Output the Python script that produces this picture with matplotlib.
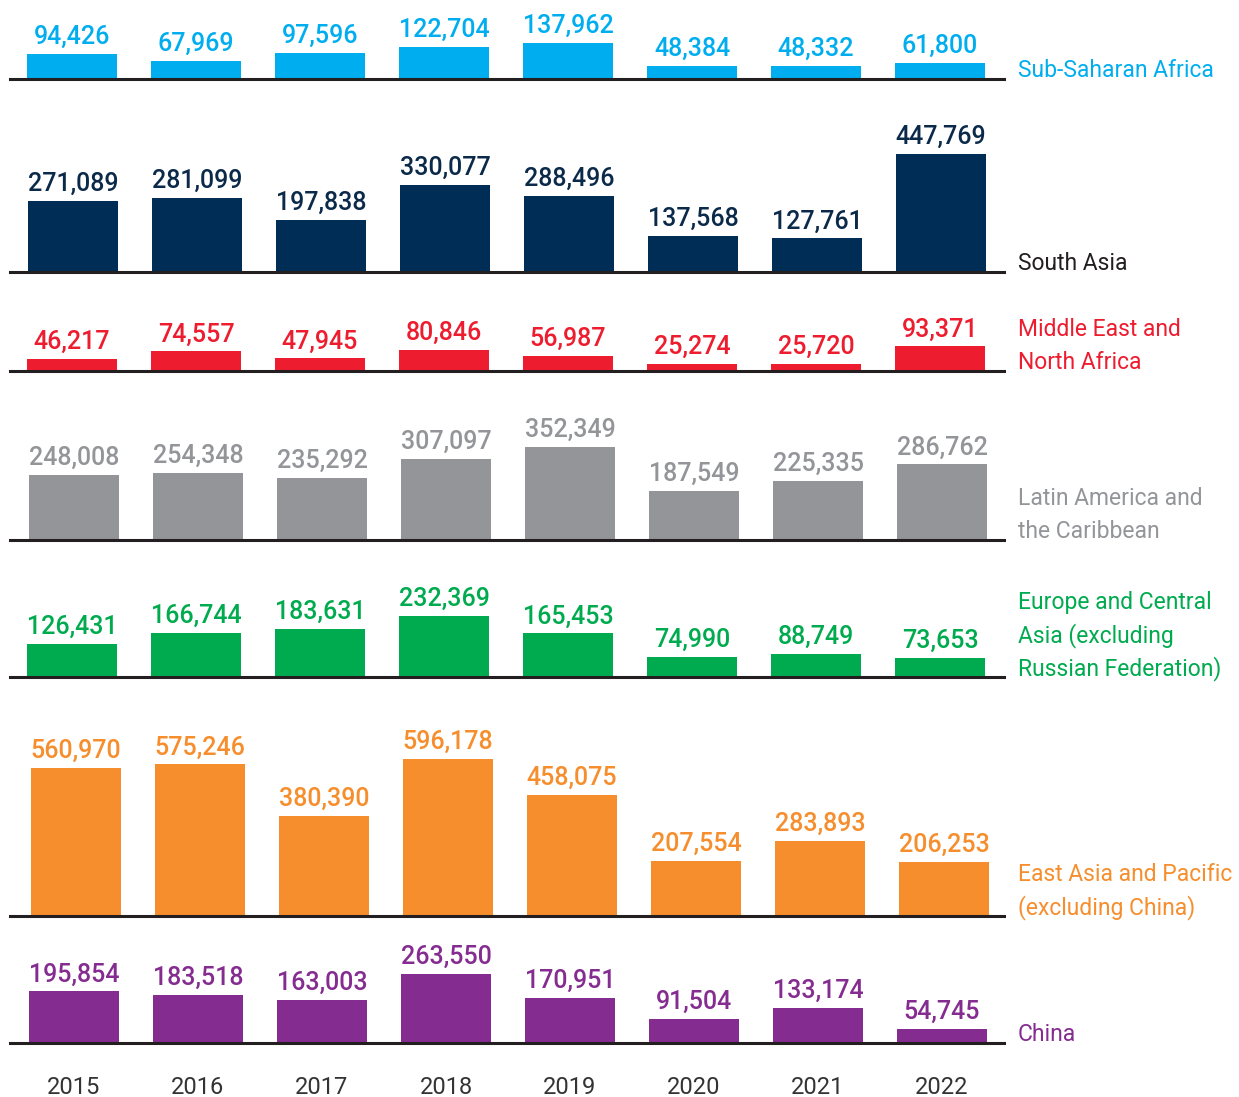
import numpy as np
import matplotlib.pyplot as plt

plt.rcParams['font.family'] = ['Roboto', 'DejaVu Sans']

#Data
years = ["2015", "2016", "2017", "2018", "2019", "2020", "2021", "2022"]
ssa = [94426, 67969, 97596, 122704, 137962, 48384, 48332, 61800]
south_asia = [271089, 281099, 197838, 330077, 288496, 137568, 127761, 447769]
mena = [46217, 74557, 47945, 80846, 56987, 25274, 25720, 93371]
lac = [248008, 254348, 235292, 307097, 352349, 187549, 225335, 286762]
eca = [126431, 166744, 183631, 232369, 165453, 74990, 88749, 73653]
eap = [560970, 575246, 380390, 596178, 458075, 207554, 283893, 206253]
china = [195854, 183518, 163003, 263550, 170951, 91504, 133174, 54745]

region_labels = [["Sub-Saharan Africa"],
                 ["South Asia"],
                 ["Middle East and", "North Africa"],
                 ["Latin America and", "the Caribbean"],
                 ["Europe and Central", "Asia (excluding", "Russian Federation)"],
                 ["East Asia and Pacific", "(excluding China)"],
                 ["China"]]
series = [ssa, south_asia, mena, lac, eca, eap, china]

#Styles
bar_colors = ["#00AEEF", "#002D56", "#ED1C2E", "#939598", "#00AB4F", "#F68E2D", "#852C90"]
value_colors = ["#00AEEF", "#0B2A4A", "#ED1C2E", "#939598", "#00AB4F", "#F68E2D", "#852C90"]
label_colors = ["#00AEEF", "#231F20", "#ED1C2E", "#939598", "#00AB4F", "#F68E2D", "#852C90"]
baselines = [79, 272, 371, 540, 677, 916, 1043]  #px from top
shifts = [0, 1, 0, 2, 0, 4, 2]  #px bar shift per row

W, H = 1239, 1097
fig = plt.figure(figsize=(W/100, H/100), dpi=100)

px_per_unit = 0.2634/1000  #same scale for every panel
ax_h = 170  #px
x0, x1 = 10, 1004
step = 124
first_c = 72
x = np.arange(len(years))

for r in range(len(series)):
    b = baselines[r]
    ax = fig.add_axes([x0/W, 1-b/H, (x1-x0)/W, ax_h/H])
    ax.patch.set_visible(False)
    ax.bar(x, series[r], width=90/step, color=bar_colors[r], zorder=2)
    s = shifts[r]
    ax.set_xlim((x0-first_c-s)/step, (x1-first_c-s)/step)
    ax.set_ylim(0, ax_h/px_per_unit)
    for sp in ['top', 'right', 'left']:
        ax.spines[sp].set_visible(False)
    ax.spines['bottom'].set_color("#231F20")
    ax.spines['bottom'].set_linewidth(2.2)
    ax.spines['bottom'].set_zorder(3)
    ax.set_xticks([])
    ax.set_yticks([])
    #value labels
    for i, v in enumerate(series[r]):
        ax.annotate(f"{v:,}", (i, v), xytext=(0, 10), textcoords='offset pixels',
                    ha='center', va='baseline', fontsize=18, fontweight='medium',
                    color=value_colors[r], annotation_clip=False)
    #region label
    lines = region_labels[r]
    n = len(lines)
    for j, txt in enumerate(lines):
        ax.annotate(txt, (1, 0), xycoords='axes fraction',
                    xytext=(14, 2 + 33*(n-1-j)), textcoords='offset pixels',
                    ha='left', va='baseline', fontsize=16.5, color=label_colors[r],
                    annotation_clip=False)
    #years under last panel
    if r == len(series)-1:
        for i, yr in enumerate(years):
            ax.annotate(yr, (i, 0), xytext=(0, -51), textcoords='offset pixels',
                        ha='center', va='baseline', fontsize=17, color="#333333",
                        annotation_clip=False)

plt.savefig("out.png", dpi=100)
